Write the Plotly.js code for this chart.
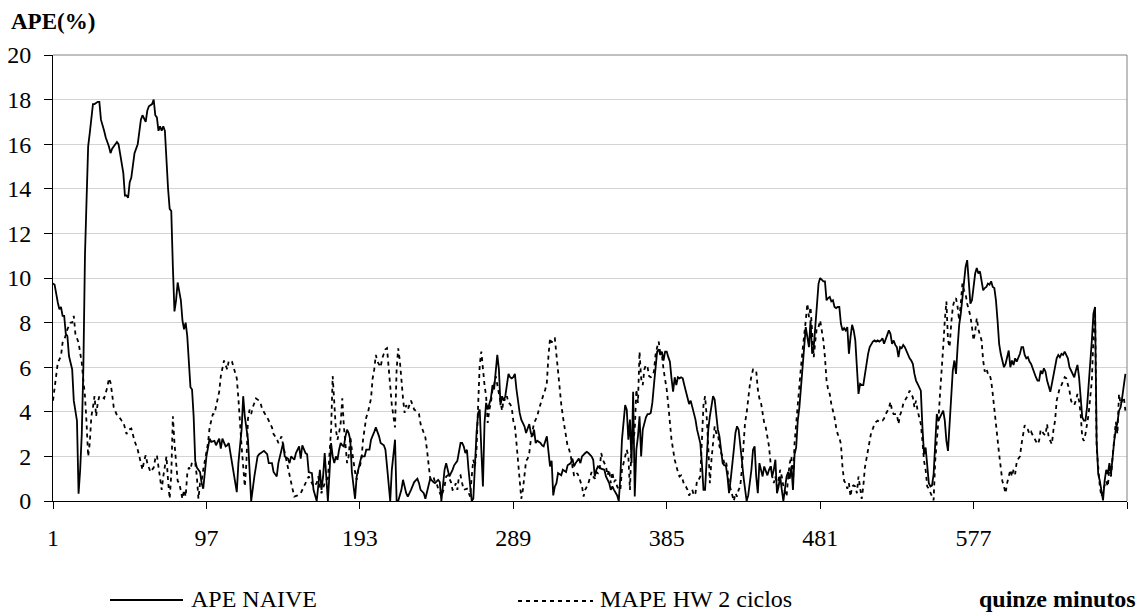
<!DOCTYPE html>
<html>
<head>
<meta charset="utf-8">
<script src="https://cdn.plot.ly/plotly-3.0.1.min.js"></script>
<style>
html,body{margin:0;padding:0;background:#fff;}
#chart{width:1147px;height:614px;}
#chart svg text{font-family:'Liberation Serif',serif !important;}
</style>
</head>
<body>
<div id="chart"></div>
<script>
// ---- Data ----
const xTickVals = [1, 97, 193, 289, 385, 481, 577, 673];
const xTickText = ['1', '97', '193', '289', '385', '481', '577', ''];
const seriesNames = ['APE NAIVE', 'MAPE HW 2 ciclos'];

const naiveX = [
1,2,4,5,6,7,8,9,10,11,13,14,16,17,18,19,20,21,22,23,
24,26,27,29,30,31,33,34,36,37,38,39,41,42,43,45,46,47,48,49,
50,51,52,54,55,56,57,59,60,61,63,64,65,66,67,68,69,70,71,72,
73,74,75,76,77,78,79,81,82,83,84,85,86,87,88,89,90,91,93,94,
95,96,97,98,99,100,102,103,105,106,107,109,110,111,113,114,116,117,119,120,
121,123,124,125,127,129,130,132,133,135,136,138,139,141,142,144,145,146,148,149,
150,152,153,155,156,157,159,160,161,163,164,166,167,168,169,170,171,172,173,174,
175,176,177,178,179,180,181,182,183,184,185,186,187,188,189,190,191,193,194,196,
197,199,200,202,203,205,206,208,209,210,212,213,215,216,217,219,220,222,223,225,
226,227,229,230,231,233,234,236,237,239,240,242,243,244,246,247,248,249,251,252,
254,255,256,257,258,259,260,261,262,263,264,265,266,267,268,269,270,271,272,273,
274,275,276,277,278,279,280,281,282,283,284,285,286,287,288,289,290,291,292,293,
294,296,297,298,299,300,301,302,303,304,306,307,308,310,311,312,313,314,315,316,
317,319,320,322,323,325,326,327,328,330,331,332,334,335,336,338,339,340,341,342,
344,346,347,348,349,350,351,352,353,354,355,356,357,358,359,360,361,362,363,364,
365,366,367,368,369,370,371,372,373,374,375,376,377,378,379,380,381,382,383,384,
385,386,387,388,389,390,391,392,393,394,395,396,397,398,399,400,401,402,403,404,
405,406,407,408,409,410,411,412,413,414,415,416,417,418,419,420,421,422,423,424,
425,426,427,428,429,430,431,432,433,434,435,436,437,438,439,440,441,442,443,444,
445,446,447,448,449,450,451,452,453,454,455,456,457,458,460,461,462,463,464,465,
466,467,468,469,470,471,472,473,474,475,476,477,478,479,480,481,482,483,484,485,
486,487,488,489,490,491,492,493,494,495,496,497,498,499,500,501,502,503,504,505,
506,507,508,509,510,511,512,513,514,515,516,517,518,519,520,521,522,523,524,525,
526,527,528,529,530,531,532,533,534,535,536,537,538,539,540,541,542,543,544,545,
546,547,548,549,550,551,552,553,554,555,556,557,558,559,560,561,562,563,564,565,
566,567,568,569,570,571,572,573,574,575,576,577,578,579,580,581,582,583,584,585,
586,587,588,589,590,591,592,593,594,595,596,597,598,599,600,601,602,603,604,605,
606,607,608,609,610,611,612,613,614,615,616,617,618,619,620,621,622,623,624,625,
626,627,628,629,630,631,632,633,634,635,636,637,638,639,640,641,642,643,644,645,
646,647,648,649,650,651,652,653,654,655,656,657,658,659,660,661,662,663,664,665,
666,667,668,669,670,671,672];
const naiveY = [
9.76,9.7,8.9,8.6,8.7,8.3,8.3,7.5,7.4,6.5,5.9,4.5,3.6,0.33,1.4,3.0,6.0,11.0,13.5,15.9,
16.5,17.8,17.8,17.9,17.9,17.1,16.6,16.3,15.9,15.6,15.8,15.9,16.1,16.0,15.6,14.7,13.7,13.7,13.6,14.3,
14.5,15.1,15.6,16.0,16.5,17.1,17.3,17.0,17.5,17.7,17.8,18.0,17.3,17.2,16.6,16.8,16.6,16.8,16.6,15.0,
14.0,13.1,13.0,10.5,8.5,9.0,9.8,9.0,8.1,7.7,8.0,7.4,6.0,5.1,5.0,3.8,1.8,1.5,1.3,0.8,
0.55,1.4,2.0,2.4,2.8,2.65,2.7,2.5,2.8,2.35,2.8,2.45,2.5,2.6,1.7,1.1,0.4,1.7,3.2,4.7,
3.8,2.75,1.55,0,1.1,2.0,2.1,2.2,2.25,2.1,1.7,1.7,1.3,1.1,1.7,2.3,2.6,2.0,1.9,1.7,
2.0,1.85,2.15,2.45,1.9,2.5,2.15,2.1,1.3,1.25,0.5,0,0.8,1.4,0.5,1.1,2.15,0.8,0,1.25,
2.6,2.0,1.7,2.0,1.85,2.3,2.6,2.5,2.45,2.9,3.2,3.05,2.75,1.3,0.65,0.1,1.1,1.7,2.0,2.0,
2.3,2.3,2.75,3.1,3.3,2.9,2.6,2.5,2.3,1.55,0,1.4,2.75,0.03,0,0.5,0.95,0.35,0.2,0.5,
0.65,0.85,1.0,0.8,0.5,0.35,0.1,0.8,1.0,0.85,0.8,0.95,0.85,0,1.4,1.7,1.4,1.1,1.4,1.6,
1.8,2.15,2.6,2.6,2.45,2.15,2.3,1.4,0.5,0,0.1,1.7,3.05,3.95,4.1,2.3,0.65,3.5,4.4,4.1,
4.4,4.6,5.2,5.0,5.8,6.55,5.9,4.3,4.7,4.5,4.7,5.2,5.7,5.55,5.5,5.55,5.7,5.0,4.4,3.95,
3.65,3.35,3.05,3.3,3.45,3.05,2.9,3.2,2.6,2.7,2.6,2.5,2.45,2.9,2.3,1.55,1.8,0.25,0.65,0.8,
1.25,1.15,1.4,1.3,1.6,1.7,1.9,1.55,1.7,1.9,1.7,2.0,2.15,2.2,2.15,2.0,1.85,1.1,1.4,1.55,
1.45,1.4,1.1,0.95,0.8,0.5,0.65,0.5,0.4,0.25,0,1.1,2.75,3.5,4.3,4.1,2.75,3.65,1.7,4.9,
0.2,2.3,2.9,3.8,2.0,3.2,3.5,3.75,3.9,3.9,3.95,4.4,5.2,6.1,6.7,6.8,6.55,6.7,6.3,6.7,
6.7,6.45,6.25,5.5,4.9,5.55,5.2,5.55,5.5,5.55,5.5,5.2,4.9,4.6,4.35,4.5,4.2,3.95,3.65,3.2,
2.9,2.6,1.7,0.5,0.5,2.0,3.2,3.8,4.35,4.7,4.55,3.95,3.2,2.9,2.15,1.7,1.6,1.6,1.1,0.35,
0.95,1.55,2.3,3.05,3.35,3.2,2.6,1.85,1.1,0.5,0,0.25,0.8,1.4,2.3,2.45,1.1,0.35,1.7,1.4,
1.1,1.55,1.3,1.15,1.4,1.55,1.1,1.4,1.85,0.35,0.65,1.1,0.5,0,1.1,1.3,1.0,1.55,0.5,2.1,
2.4,3.6,4.2,5.1,6.3,7.05,7.8,7.35,6.9,8.1,6.6,6.9,7.8,8.7,9.75,10.0,9.9,9.85,9.85,9.0,
9.1,9.15,8.95,9.0,8.7,8.65,8.7,8.7,7.95,7.65,7.75,7.65,7.8,6.6,7.35,7.9,7.65,7.2,6.0,4.8,
5.25,5.2,5.2,5.7,6.15,6.6,6.9,7.05,7.15,7.2,7.15,7.2,7.15,7.2,7.3,7.05,7.3,7.45,7.65,7.5,
7.05,7.2,7.0,6.9,6.45,6.9,6.85,7.0,6.9,6.7,6.6,6.4,6.3,6.15,5.7,5.4,5.25,5.1,4.95,3.3,
2.1,2.4,1.4,0.8,0.65,0.7,1.2,2.7,3.9,3.6,3.75,3.9,4.05,3.6,2.7,2.25,3.45,4.95,5.85,6.3,
5.7,6.9,7.9,8.4,9.15,9.75,10.5,10.8,9.6,8.85,9.0,9.6,10.2,10.45,10.2,10.3,9.9,9.45,9.55,9.6,
9.75,9.7,9.85,9.6,9.55,9.0,8.1,7.05,6.6,6.25,6.0,6.15,6.45,6.75,6.0,6.3,6.1,6.4,6.25,6.4,
6.6,6.9,6.9,6.55,6.4,6.45,6.25,6.15,5.95,5.7,5.55,5.4,5.4,5.85,5.7,5.95,5.8,5.4,5.1,4.9,
5.25,5.7,6.15,6.4,6.55,6.45,6.6,6.55,6.7,6.55,6.4,6.0,5.85,5.7,5.55,5.85,6.1,5.55,4.8,3.75,
3.6,3.6,4.2,5.1,6.0,7.2,8.4,8.7,2.7,1.2,0.9,0.5,0.03,0.9,1.4,1.2,1.7,1.2,2.0,2.7,
3.2,3.5,4.05,4.2,4.65,5.1,5.7];

const hwX = [
1,2,3,4,6,7,8,9,10,12,13,14,15,17,18,19,20,21,22,23,
24,25,26,27,28,29,30,31,33,35,36,37,38,39,41,42,44,45,47,48,
50,51,52,54,55,56,57,58,59,60,61,62,64,65,66,67,68,69,70,71,
72,73,74,75,76,77,78,79,80,81,82,83,84,85,86,87,88,89,90,91,
92,93,94,95,96,97,98,99,100,101,102,104,105,106,107,108,110,111,113,114,
116,117,118,119,120,121,122,123,124,125,126,128,130,131,132,134,135,136,138,139,
141,142,144,145,146,147,148,149,150,151,152,154,156,157,159,160,161,163,164,166,
167,168,169,171,172,173,174,175,176,177,178,179,180,181,182,183,184,185,186,187,
188,189,190,191,192,193,194,195,196,197,198,199,200,201,202,203,204,206,207,208,
209,210,211,212,213,214,215,216,217,218,219,220,221,222,223,224,225,227,228,230,
231,233,234,235,236,237,238,239,240,241,242,243,244,246,247,248,250,251,252,253,
254,255,256,257,258,260,261,262,263,264,265,266,267,268,269,270,271,272,273,274,
275,276,277,278,279,280,281,282,283,284,285,286,287,288,289,290,291,292,293,294,
295,296,297,298,299,300,301,302,303,304,305,306,307,308,309,310,311,312,313,314,
315,316,317,318,319,320,321,322,323,324,325,326,327,328,329,330,331,332,333,334,
336,337,338,339,340,341,342,343,344,345,347,348,349,350,351,352,353,354,355,356,
357,358,360,361,362,363,364,365,366,367,368,369,370,371,372,373,374,375,376,377,
378,379,380,381,382,383,384,385,386,387,388,390,391,392,393,394,395,396,397,398,
399,400,401,402,403,404,405,406,407,408,409,410,411,412,413,414,415,416,417,418,
419,420,421,422,423,424,425,426,427,428,429,430,431,432,433,434,435,436,437,438,
439,440,441,442,443,444,445,446,447,448,449,450,451,452,453,454,455,456,457,458,
459,460,461,462,463,464,465,466,467,468,469,470,471,472,473,474,475,476,477,478,
479,480,481,482,483,484,485,486,487,488,489,490,491,492,493,494,495,496,497,498,
499,500,501,502,503,504,505,506,507,508,509,510,511,512,513,514,515,516,517,518,
519,520,521,522,523,524,525,526,527,528,529,530,531,532,533,534,535,536,537,538,
539,540,541,542,543,544,545,546,547,548,549,550,551,552,553,554,555,556,557,558,
559,560,561,562,563,564,565,566,567,568,569,570,571,572,573,574,575,576,577,578,
579,580,581,582,583,584,585,586,587,588,589,590,591,592,593,594,595,596,597,598,
600,601,602,603,604,605,606,607,608,609,610,611,612,613,614,615,616,617,618,619,
621,622,623,624,625,626,627,628,629,630,631,632,633,634,635,636,637,638,639,640,
641,642,643,644,645,646,647,649,650,651,652,653,654,655,656,657,658,660,661,662,
663,664,665,666,667,668,669,670,671,672];
const hwY = [
4.5,5.1,5.5,6.2,6.5,7.1,7.2,7.5,7.7,8.0,8.0,8.3,7.5,7.1,6.6,6.2,5.4,4.7,3.5,2.0,
2.6,3.8,4.2,4.7,3.8,4.4,4.7,4.7,4.6,5.1,5.5,5.3,4.8,4.2,3.85,3.8,3.6,3.55,3.0,3.2,
3.25,2.9,2.7,2.3,2.0,1.7,1.4,1.8,2.05,1.7,1.5,1.3,1.5,1.9,2.05,1.5,1.1,0.5,1.1,1.5,
2.0,0.9,0.1,1.2,3.8,2.6,1.7,0.9,0.8,0.5,0.1,0.5,0.2,1.2,1.5,1.4,1.75,1.7,1.7,1.1,
0.1,0.8,0.9,1.4,1.8,2.1,2.6,3.3,3.6,3.9,3.9,4.5,4.9,5.6,5.9,6.3,5.9,6.3,6.25,6.0,
5.5,4.6,3.2,2.45,1.55,0.65,1.7,3.7,4.1,3.9,4.2,4.6,4.5,4.35,4.1,3.9,3.75,3.6,3.3,3.0,
2.8,2.6,2.9,2.5,2.15,1.85,1.4,1.1,0.7,0.5,0.2,0.25,0.35,0.5,0.85,0.95,1.1,0.8,0.65,0.8,
1.1,0.65,0.35,0.8,0.95,1.0,2.0,3.2,5.6,4.6,3.2,2.75,3.05,3.5,4.6,3.35,2.3,1.7,2.0,2.9,
2.3,1.7,1.3,0.95,1.4,1.55,1.85,2.75,3.3,3.75,3.95,4.3,4.6,5.5,5.9,6.55,6.25,6.0,6.4,6.6,
6.8,6.85,5.9,5.0,4.3,3.8,3.3,5.9,6.85,6.3,5.3,4.6,3.95,4.3,4.1,4.3,4.5,4.1,4.05,3.9,
3.45,3.05,2.85,2.3,1.7,1.0,1.1,1.1,0.85,0.8,0.55,0.35,0.2,0.65,1.1,1.15,0.85,0.5,0.55,0.8,
0.5,1.1,1.15,0.8,0.5,0.55,0.4,0.2,1.1,1.85,1.55,2.3,4.3,6.1,6.7,5.9,5.2,4.7,3.5,4.1,
4.4,5.0,5.2,5.6,5.2,4.9,4.4,4.05,4.6,4.5,4.7,4.4,4.35,4.2,3.6,3.35,2.6,1.7,0.8,0.1,
0.5,1.1,1.8,1.9,2.15,2.75,3.2,3.5,3.65,3.8,4.1,4.35,4.65,4.8,5.0,5.3,6.5,7.3,7.1,7.3,
7.3,6.55,5.5,5.0,4.35,3.8,3.35,2.75,2.45,2.3,2.0,1.55,1.15,1.1,1.25,1.1,0.85,0.65,0.2,0.5,
0.8,1.1,1.3,1.1,1.0,1.3,1.25,1.4,2.15,1.85,1.55,1.15,1.4,0.8,1.3,0.85,0.95,0.65,0.5,0.5,
1.4,1.7,2.3,2.0,0.5,2.6,2.6,3.2,5.0,4.4,6.7,5.5,5.2,5.9,6.1,6.0,5.6,5.55,5.6,5.8,
6.55,6.9,7.15,6.6,6.55,5.9,5.5,5.0,4.3,3.35,2.75,1.85,1.55,1.3,1.1,1.15,0.95,0.7,0.65,0.5,
0.25,0.35,0.5,0.25,0.35,0.95,0.95,1.1,3.05,4.3,4.7,3.8,2.45,0.8,1.85,2.6,3.35,3.05,3.05,2.45,
2.15,2.0,1.7,1.8,1.4,0.8,0.5,0.2,0,0.35,0.2,0.5,0.65,1.4,2.6,3.5,3.95,4.6,5.2,5.6,
5.9,5.9,5.85,5.0,4.6,4.4,3.95,3.5,3.3,2.9,2.45,1.7,1.1,0.8,1.1,0.65,0.95,1.4,1.1,0.65,
0.4,0.2,1.1,1.7,2.0,0.8,2.6,3.55,4.2,5.1,6.0,6.75,7.35,8.1,8.85,8.25,8.7,7.65,6.45,7.2,
7.8,7.8,8.1,7.65,7.2,6.45,5.4,5.0,4.8,4.35,4.05,3.75,3.3,3.0,2.85,2.55,1.5,0.9,0.8,0.55,
0.8,0.2,0.65,0.7,0.65,0.35,1.1,0.65,0.1,0.65,1.5,1.9,2.3,2.7,3.1,3.25,3.45,3.55,3.6,3.55,
3.6,3.6,3.7,3.9,4.05,4.15,4.45,4.05,3.9,3.9,3.9,3.45,3.85,4.05,4.35,4.5,4.6,4.75,4.95,4.8,
4.65,4.2,4.5,4.05,3.75,3.45,2.7,1.8,1.4,0.65,0.55,0.35,0.2,0.03,1.8,2.55,3.6,4.8,5.7,6.9,
8.1,8.95,7.2,6.9,7.95,8.7,9.0,9.1,8.7,8.1,8.85,9.75,9.45,9.3,8.85,8.6,8.3,7.8,7.2,7.6,
8.2,7.7,7.4,7.2,6.3,5.8,5.95,5.7,5.7,5.4,4.8,4.05,3.45,2.85,2.1,1.5,0.9,0.65,0.35,0.8,
1.4,1.1,1.4,1.2,1.75,1.9,2.0,2.55,3.0,3.4,3.25,3.2,3.0,3.1,2.95,2.8,2.7,2.55,2.7,3.2,
3.0,2.95,3.45,2.85,2.7,2.55,3.2,3.6,4.5,4.8,5.1,5.2,5.35,5.55,5.5,5.25,4.95,4.5,4.35,4.3,
4.5,4.8,4.5,3.9,2.85,2.7,3.0,3.9,4.65,5.4,7.35,8.7,2.4,1.4,0.65,0.2,0.5,0.9,0.65,1.5,
1.1,2.0,2.85,3.55,3.0,4.8,4.35,4.5,4.65,4.05];

// ---- Chart ----
const SERIF = 'Liberation Serif';
const W = 1147, H = 614, ML = 53, MR = 20, MT = 55, MB = 113;
const PW = W - ML - MR, PH = H - MT - MB;
const px = v => (v - ML) / PW;          // pixel x -> paper x
const py = v => (H - MB - v) / PH;      // pixel y -> paper y

const traces = [
  {x: naiveX, y: naiveY, name: seriesNames[0], type: 'scatter', mode: 'lines',
   line: {color: '#000', width: 1.8}, hoverinfo: 'x+y'},
  {x: hwX, y: hwY, name: seriesNames[1], type: 'scatter', mode: 'lines',
   line: {color: '#000', width: 1.8, dash: '4px,4px'}, hoverinfo: 'x+y'}
];

const layout = {
  width: W, height: H,
  margin: {l: ML, r: MR, t: MT, b: MB},
  paper_bgcolor: '#fff', plot_bgcolor: '#fff',
  showlegend: false,
  xaxis: {
    range: [1, 673], tickvals: xTickVals, ticktext: xTickText,
    ticks: 'outside', ticklen: 7, tickwidth: 1, tickcolor: '#000',
    showline: true, linecolor: '#000', linewidth: 1,
    showgrid: false, zeroline: false, ticklabelstandoff: 8,
    tickfont: {family: SERIF, size: 24, color: '#000'}
  },
  yaxis: {
    range: [0, 20], dtick: 2, tick0: 0,
    ticks: 'outside', ticklen: 8, tickwidth: 1, tickcolor: '#000',
    showline: true, linecolor: '#000', linewidth: 1,
    showgrid: true, gridcolor: '#d4d4d4', gridwidth: 1, zeroline: false,
    ticklabelstandoff: 8,
    tickfont: {family: SERIF, size: 24, color: '#000'}
  },
  shapes: [
    {type: 'line', xref: 'paper', yref: 'paper', x0: 0, x1: 1, y0: 1, y1: 1, line: {color: '#808080', width: 1}},
    {type: 'line', xref: 'paper', yref: 'paper', x0: 1, x1: 1, y0: 0, y1: 1, line: {color: '#808080', width: 1}},
    {type: 'line', xref: 'paper', yref: 'paper', x0: px(110), x1: px(183), y0: py(600), y1: py(600), line: {color: '#000', width: 2}},
    {type: 'line', xref: 'paper', yref: 'paper', x0: px(518), x1: px(593), y0: py(601), y1: py(601), line: {color: '#000', width: 2, dash: '4px,4px'}}
  ],
  annotations: [
    {text: '<b>APE(%)</b>', xref: 'paper', yref: 'paper', x: px(9), y: py(21), xanchor: 'left', yanchor: 'middle',
     showarrow: false, font: {family: SERIF, size: 23, color: '#000'}},
    {text: seriesNames[0], xref: 'paper', yref: 'paper', x: px(189), y: py(599), xanchor: 'left', yanchor: 'middle',
     showarrow: false, font: {family: SERIF, size: 24, color: '#000'}},
    {text: seriesNames[1], xref: 'paper', yref: 'paper', x: px(598), y: py(599), xanchor: 'left', yanchor: 'middle',
     showarrow: false, font: {family: SERIF, size: 24, color: '#000'}},
    {text: '<b>quinze minutos</b>', xref: 'paper', yref: 'paper', x: px(1138), y: py(599), xanchor: 'right', yanchor: 'middle',
     showarrow: false, font: {family: SERIF, size: 24, color: '#000'}}
  ]
};

Plotly.newPlot('chart', traces, layout, {staticPlot: true});
</script>
</body>
</html>
